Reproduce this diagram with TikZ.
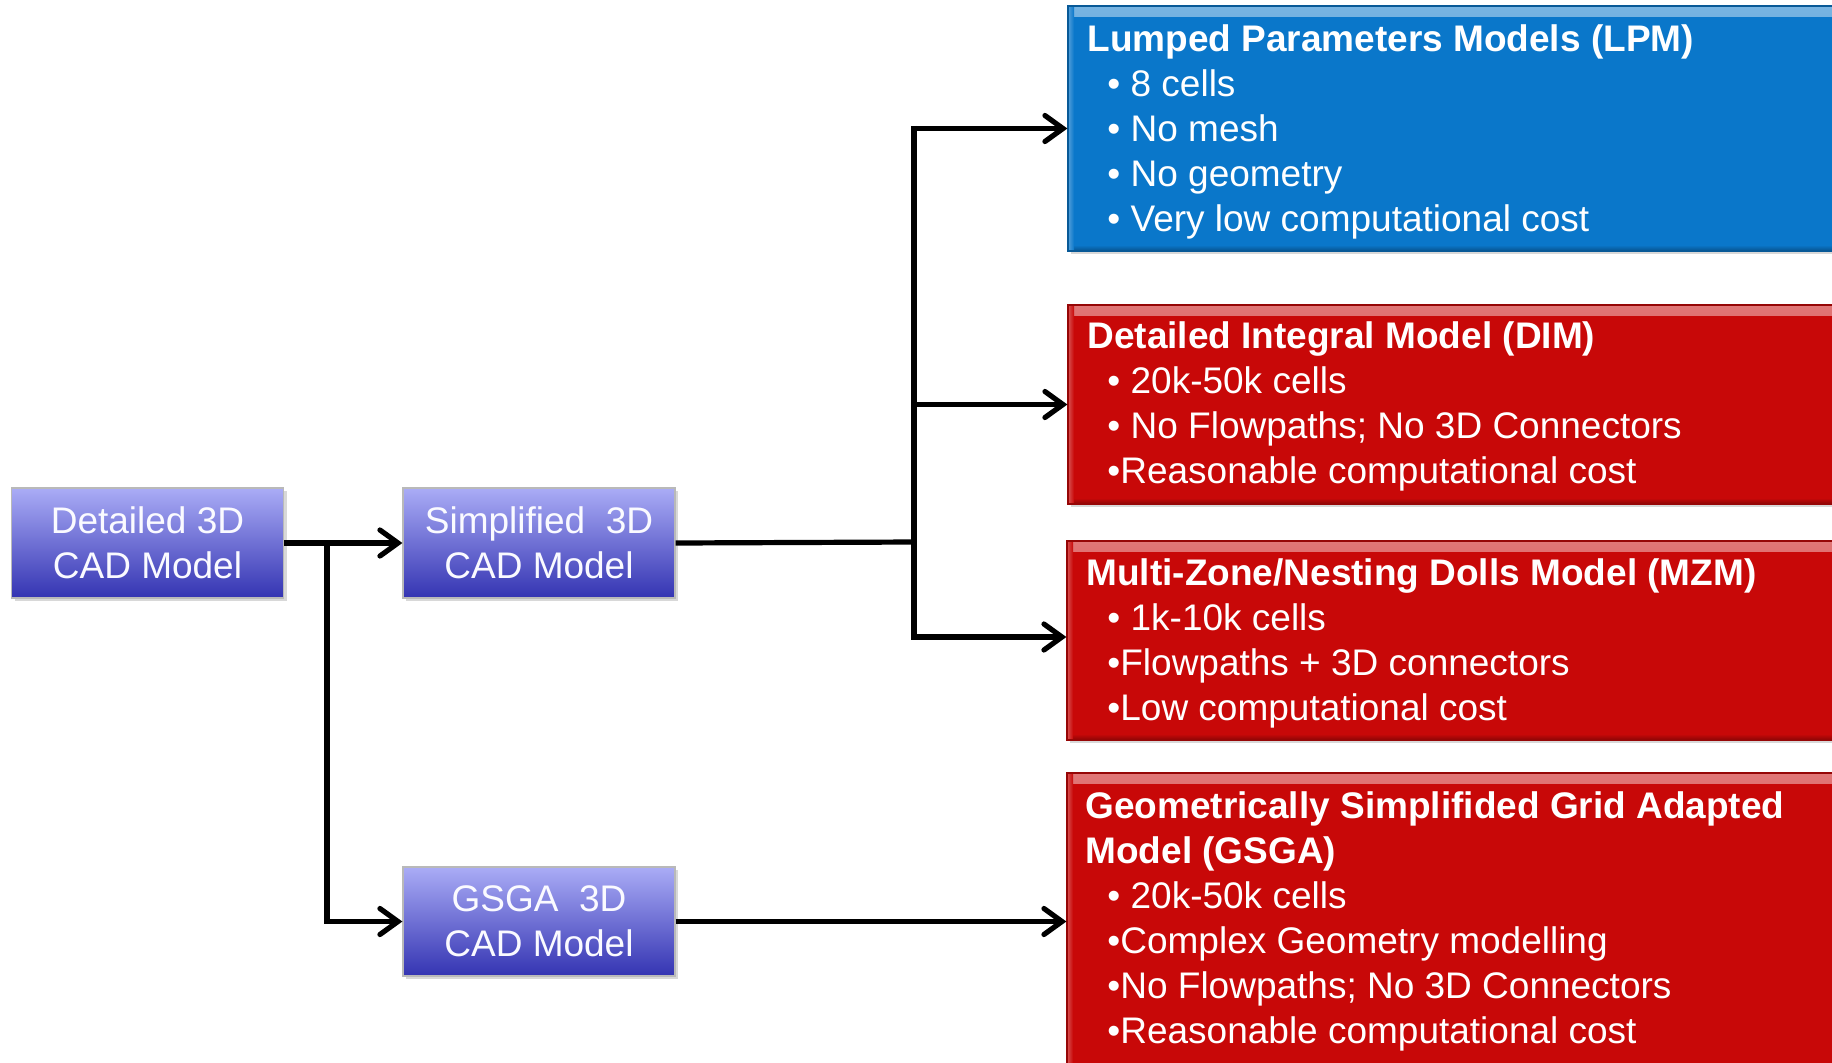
\documentclass[tikz,border=0pt]{standalone}
\usepackage{fontspec}
\setmainfont{Liberation Sans}
\usetikzlibrary{arrows.meta,shadows}
\definecolor{lpmblue}{HTML}{0A77CA}
\definecolor{redbox}{HTML}{C80808}
\definecolor{cadtop}{HTML}{AAACF6}
\definecolor{cadbot}{HTML}{3434B2}
\definecolor{cadtext}{HTML}{FAFAFF}
\begin{document}
\begin{tikzpicture}[x=0.5pt,y=-0.5pt,
  cadbox/.style={draw=gray!55, line width=0.6pt, top color=cadtop, bottom color=cadbot,
    minimum width=136pt, minimum height=55pt, text=cadtext, align=center,
    font=\fontsize{18.5}{22.5}\selectfont, inner sep=0pt,
    drop shadow={opacity=0.3, shadow xshift=1.5pt, shadow yshift=-1.5pt}},
  bigbox/.style={minimum width=391pt, inner sep=0pt, draw=#1!75!black, line width=0.6pt, fill=#1,
    drop shadow={opacity=0.3, shadow xshift=1.5pt, shadow yshift=-1.5pt},
    path picture={
      \fill[top color=#1!55!white, bottom color=#1] (path picture bounding box.north west) rectangle ([yshift=-5pt]path picture bounding box.north east);
      \fill[top color=#1, bottom color=#1!70!black] ([yshift=3pt]path picture bounding box.south west) rectangle (path picture bounding box.south east);
      \fill[left color=#1!70!white, right color=#1] (path picture bounding box.north west) rectangle ([xshift=3pt]path picture bounding box.south west);
    }},
  conn/.style={line width=2.6pt, line join=miter},
  arr/.style={conn, -{Straight Barb[length=9pt,width=13pt,line cap=round]}},
  tl/.style={anchor=base west, inner sep=0pt, text=white, font=\fontsize{18.5}{22.5}\selectfont},
  tt/.style={anchor=base west, inner sep=0pt, text=white, font=\bfseries\fontsize{18.5}{22.5}\selectfont}
]
\useasboundingbox (0,0) rectangle (1832,1062);
\clip (0,0) rectangle (1832,1062);
\fill[white] (0,0) rectangle (1832,1062);

% left boxes
\node[cadbox] (A) at (147.5,543) {Detailed 3D\\CAD Model};
\node[cadbox] (B) at (539,543) {Simplified\ \ 3D\\CAD Model};
\node[cadbox, minimum height=54.5pt] (C) at (539,921.5) {GSGA\ \ 3D\\CAD Model};

% right boxes
\node[bigbox=lpmblue, minimum height=122.5pt] (LPM) at (1459,128.5) {};
\node[bigbox=redbox, minimum height=99.5pt] (DIM) at (1459,404.5) {};
\node[bigbox=redbox, minimum height=99.5pt] (MZM) at (1458,640.5) {};
\node[bigbox=redbox, minimum height=148.5pt] (GSGA) at (1458,921.5) {};

% texts LPM
\node[tt] (lpm0) at (1087,51) {Lumped Parameters Models (LPM)};
\node[tl] (lpm1) at (1107,96) {• 8 cells};
\node[tl] (lpm2) at (1107,141) {• No mesh};
\node[tl] (lpm3) at (1107,186) {• No geometry};
\node[tl] (lpm4) at (1107,231) {• Very low computational cost};
% texts DIM
\node[tt] (dim0) at (1087,348) {Detailed Integral Model (DIM)};
\node[tl] (dim1) at (1107,393) {• 20k-50k cells};
\node[tl] (dim2) at (1107,438) {• No Flowpaths; No 3D Connectors};
\node[tl] (dim3) at (1107,483) {•Reasonable computational cost};
% texts MZM
\node[tt] (mzm0) at (1086,585) {Multi-Zone/Nesting Dolls Model (MZM)};
\node[tl] (mzm1) at (1107,630) {• 1k-10k cells};
\node[tl] (mzm2) at (1107,675) {•Flowpaths + 3D connectors};
\node[tl] (mzm3) at (1107,720) {•Low computational cost};
% texts GSGA
\node[tt] (gs0) at (1085,818) {Geometrically Simplifided Grid Adapted};
\node[tt] (gs1) at (1085,863) {Model (GSGA)};
\node[tl] (gs2) at (1107,908) {• 20k-50k cells};
\node[tl] (gs3) at (1107,953) {•Complex Geometry modelling};
\node[tl] (gs4) at (1107,998) {•No Flowpaths; No 3D Connectors};
\node[tl] (gs5) at (1107,1043) {•Reasonable computational cost};

% connectors
\coordinate (jA) at (327,543);
\coordinate (jB) at (914,542);
\coordinate (jTop) at (914,128.5);
\coordinate (jDim) at (914,404.5);
\coordinate (jBot) at (914,637);

\draw[arr] (A.east) -- (B.west);
\draw[arr] (jA) |- (C.west);
\draw[conn] (B.east) -- (jB);
\draw[conn] ([yshift=1.3pt]jTop) -- ([yshift=-1.3pt]jBot);
\draw[arr] ([xshift=-1.3pt]jTop) -- (LPM.west);
\draw[arr] (jDim) -- (DIM.west);
\draw[arr] ([xshift=-1.3pt]jBot) -- (jBot -| MZM.west);
\draw[arr] (C.east) -- (C.east -| GSGA.west);
\end{tikzpicture}
\end{document}
